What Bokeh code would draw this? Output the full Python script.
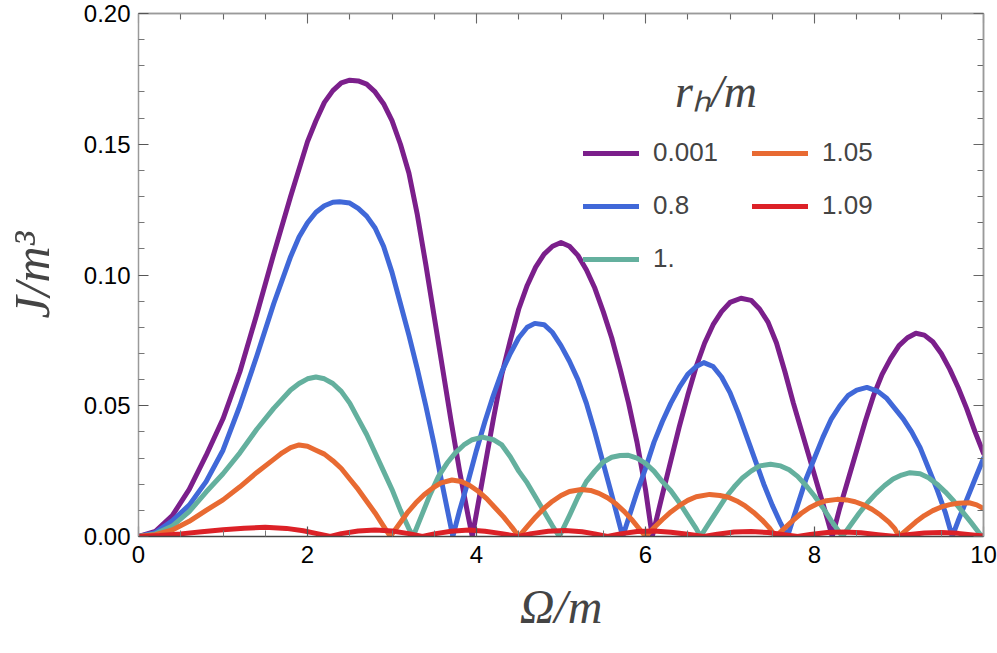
from bokeh.plotting import figure
from bokeh.models import (LinearAxis, FixedTicker, NumeralTickFormatter, Range1d,
                          Legend, LegendItem)
from bokeh.embed import file_html
from bokeh.resources import INLINE

# ---------------- data ----------------
x_0001 = [0, 0.2, 0.4, 0.6, 0.8, 1.0, 1.2, 1.4, 1.6, 1.8, 2.0, 2.1, 2.2, 2.3, 2.4, 2.5, 2.6, 2.7, 2.8,
          2.9, 3.0, 3.1, 3.2, 3.3, 3.4, 3.5, 3.6, 3.7, 3.8, 3.9, 3.95,
          4.0, 4.1, 4.2, 4.3, 4.4, 4.5, 4.6, 4.7, 4.8, 4.9, 5.0, 5.1, 5.2, 5.3, 5.4, 5.5, 5.6, 5.7,
          5.8, 5.9, 6.0, 6.08,
          6.2, 6.3, 6.4, 6.5, 6.6, 6.7, 6.8, 6.9, 7.0, 7.13, 7.25, 7.35, 7.45, 7.55, 7.65, 7.75,
          7.85, 7.95, 8.05, 8.15, 8.21,
          8.3, 8.4, 8.5, 8.6, 8.7, 8.8, 8.9, 9.0, 9.1, 9.2, 9.3, 9.4, 9.5, 9.6, 9.7, 9.8, 9.9, 10.0]
y_0001 = [0, 0.002, 0.008, 0.018, 0.031, 0.045, 0.063, 0.085, 0.108, 0.130, 0.151, 0.159, 0.166, 0.1705,
          0.1735, 0.1745, 0.1742, 0.173, 0.170,
          0.1655, 0.159, 0.150, 0.139, 0.123, 0.104, 0.084, 0.064, 0.044, 0.025, 0.008, 0,
          0.009, 0.027, 0.045, 0.062, 0.075, 0.087, 0.096, 0.103, 0.108, 0.111, 0.1124, 0.111, 0.1075,
          0.102, 0.095, 0.086, 0.076, 0.064,
          0.051, 0.036, 0.018, 0,
          0.016, 0.029, 0.042, 0.054, 0.065, 0.074, 0.081, 0.086, 0.0895, 0.0911, 0.0903, 0.087,
          0.082, 0.074, 0.063, 0.051,
          0.040, 0.029, 0.018, 0.007, 0,
          0.011, 0.022, 0.033, 0.044, 0.054, 0.062, 0.068, 0.073, 0.076, 0.0777, 0.077, 0.0745,
          0.070, 0.064, 0.057, 0.049, 0.040, 0.0318]

x_08 = [0, 0.2, 0.4, 0.6, 0.8, 1.0, 1.2, 1.4, 1.6, 1.8, 1.9, 2.0, 2.1, 2.2, 2.3, 2.38, 2.5, 2.6, 2.7,
        2.8, 2.9, 3.0, 3.1, 3.2, 3.3, 3.4, 3.5, 3.6, 3.72,
        3.8, 3.9, 4.0, 4.1, 4.2, 4.3, 4.4, 4.5, 4.6, 4.69, 4.8, 4.9, 5.0, 5.1, 5.2, 5.3, 5.4, 5.5,
        5.6, 5.73,
        5.8, 5.9, 6.0, 6.1, 6.2, 6.3, 6.4, 6.5, 6.6, 6.69, 6.8, 6.9, 7.0, 7.1, 7.2, 7.3, 7.4, 7.5,
        7.6, 7.68,
        7.8, 7.9, 8.0, 8.1, 8.2, 8.3, 8.4, 8.5, 8.62, 8.75, 8.85, 8.95, 9.05, 9.15, 9.25, 9.35,
        9.45, 9.55, 9.63,
        9.7, 9.8, 9.9, 10.0]
y_08 = [0, 0.0015, 0.006, 0.012, 0.021, 0.033, 0.050, 0.069, 0.089, 0.107, 0.1145, 0.120, 0.124, 0.1265,
        0.1278, 0.128, 0.1275, 0.1255, 0.1225,
        0.118, 0.111, 0.101, 0.089, 0.077, 0.064, 0.050, 0.035, 0.019, 0,
        0.010, 0.021, 0.033, 0.044, 0.054, 0.063, 0.070, 0.076, 0.080, 0.0815, 0.081, 0.078, 0.073,
        0.067, 0.060, 0.051, 0.040, 0.028,
        0.016, 0,
        0.007, 0.017, 0.026, 0.036, 0.044, 0.051, 0.057, 0.062, 0.065, 0.0665, 0.065, 0.061, 0.055,
        0.047, 0.038, 0.029, 0.020, 0.012,
        0.005, 0,
        0.012, 0.022, 0.030, 0.038, 0.045, 0.050, 0.054, 0.056, 0.057, 0.0555, 0.053, 0.049, 0.045,
        0.040, 0.034, 0.026,
        0.018, 0.009, 0,
        0.006, 0.014, 0.022, 0.0299]

x_1 = [0, 0.2, 0.4, 0.6, 0.8, 1.0, 1.2, 1.4, 1.6, 1.8, 1.9, 2.0, 2.1, 2.2, 2.3, 2.4, 2.5, 2.6, 2.7,
       2.8, 2.9, 3.0, 3.1, 3.2, 3.25,
       3.35, 3.45, 3.55, 3.65, 3.75, 3.85, 3.95, 4.07, 4.2, 4.3, 4.4, 4.5, 4.6, 4.7, 4.8, 4.9, 4.98,
       5.1, 5.2, 5.3, 5.4, 5.5, 5.6, 5.7, 5.79, 5.9, 6.0, 6.1, 6.2, 6.3, 6.4, 6.5, 6.6, 6.65,
       6.75, 6.85, 6.95, 7.05, 7.15, 7.25, 7.35, 7.48, 7.6, 7.7, 7.8, 7.9, 8.0, 8.1, 8.2, 8.33,
       8.43, 8.53, 8.63, 8.73, 8.83, 8.93, 9.03, 9.13, 9.25, 9.35, 9.45, 9.55, 9.65, 9.75, 9.85,
       9.98, 10.0]
y_1 = [0, 0.001, 0.004, 0.0095, 0.017, 0.024, 0.032, 0.041, 0.049, 0.056, 0.0585, 0.0603, 0.061, 0.0603,
       0.0585, 0.0555, 0.051, 0.045, 0.039,
       0.032, 0.025, 0.018, 0.010, 0.003, 0,
       0.008, 0.016, 0.023, 0.028, 0.032, 0.035, 0.037, 0.038, 0.037, 0.035, 0.0305, 0.025, 0.0205,
       0.015, 0.0095, 0.004, 0,
       0.008, 0.015, 0.021, 0.025, 0.0285, 0.0303, 0.031, 0.0311, 0.030, 0.028, 0.025, 0.021,
       0.0175, 0.013, 0.008, 0.003, 0,
       0.005, 0.010, 0.015, 0.019, 0.0225, 0.025, 0.027, 0.0276, 0.027, 0.0255, 0.023, 0.0195,
       0.0155, 0.011, 0.006, 0,
       0.0045, 0.009, 0.013, 0.0165, 0.0195, 0.022, 0.0235, 0.0244, 0.024, 0.0225, 0.020, 0.017,
       0.0135, 0.0095, 0.0055,
       0, 0.0005]

x_105 = [0, 0.2, 0.4, 0.6, 0.8, 1.0, 1.2, 1.4, 1.6, 1.7, 1.8, 1.9, 2.0, 2.1, 2.2, 2.3, 2.4, 2.5,
         2.6, 2.7, 2.8, 2.9, 2.98,
         3.08, 3.18, 3.28, 3.38, 3.48, 3.58, 3.71, 3.82, 3.92, 4.02, 4.12, 4.22, 4.32, 4.42, 4.5,
         4.6, 4.7, 4.8, 4.9, 5.0, 5.1, 5.24, 5.35, 5.45, 5.55, 5.65, 5.75, 5.85, 5.95, 6.0,
         6.1, 6.2, 6.3, 6.4, 6.5, 6.6, 6.76, 6.88, 6.98, 7.08, 7.18, 7.28, 7.38, 7.46, 7.54,
         7.64, 7.74, 7.84, 7.94, 8.04, 8.14, 8.27, 8.38, 8.48, 8.58, 8.68, 8.78, 8.88, 8.95, 9.0,
         9.1, 9.2, 9.3, 9.4, 9.5, 9.6, 9.7, 9.83, 9.92, 10.0]
y_105 = [0, 0.0007, 0.0025, 0.0058, 0.010, 0.014, 0.019, 0.0245, 0.0295, 0.032, 0.034, 0.035, 0.0345,
         0.033, 0.0315, 0.029, 0.026, 0.022,
         0.018, 0.0135, 0.009, 0.004, 0,
         0.0045, 0.009, 0.0128, 0.016, 0.0185, 0.0205, 0.0216, 0.021, 0.0195, 0.0173, 0.0145, 0.011,
         0.0075, 0.0035, 0,
         0.0038, 0.0075, 0.0108, 0.0135, 0.0157, 0.0172, 0.018, 0.0176, 0.0165, 0.0148, 0.0125,
         0.0095, 0.006, 0.002, 0,
         0.0033, 0.0065, 0.0094, 0.0118, 0.0138, 0.0152, 0.0161, 0.0157, 0.015, 0.0136, 0.0117,
         0.0092, 0.0063, 0.0035, 0,
         0.003, 0.006, 0.0088, 0.011, 0.0126, 0.0137, 0.0142, 0.014, 0.0133, 0.0121, 0.0104, 0.0082,
         0.0055, 0.003, 0,
         0.0028, 0.0056, 0.0080, 0.0099, 0.0113, 0.0122, 0.0127, 0.0129, 0.0121, 0.0107]

x_109 = [0, 0.25, 0.5, 0.75, 1.0, 1.25, 1.5, 1.75, 1.95, 2.1, 2.27, 2.4, 2.6, 2.8, 3.0, 3.2, 3.36,
         3.5, 3.7, 3.91, 4.1, 4.3, 4.49, 4.65, 4.85, 5.05, 5.25, 5.4, 5.55, 5.7, 5.9, 6.1, 6.3,
         6.5, 6.69, 6.85, 7.05, 7.25, 7.45, 7.62, 7.8, 7.95, 8.15, 8.35, 8.55, 8.75, 8.96, 9.1,
         9.3, 9.5, 9.7, 9.9, 10.0]
y_109 = [0, 0.0004, 0.001, 0.0018, 0.0026, 0.0032, 0.0035, 0.0031, 0.0022, 0.0012, 0, 0.0011, 0.0021,
         0.0025, 0.0021, 0.0011, 0,
         0.001, 0.002, 0.0025, 0.002, 0.0011, 0, 0.0011, 0.002, 0.0023, 0.0018, 0.001, 0, 0.001,
         0.0019, 0.0021, 0.0016,
         0.0009, 0, 0.0009, 0.0017, 0.0019, 0.0015, 0.0008, 0, 0.0008, 0.0015, 0.0017, 0.0014,
         0.0007, 0, 0.0007,
         0.0013, 0.0015, 0.0012, 0.0005, 0.0002]

series_labels = ["0.001", "0.8", "1.", "1.05", "1.09"]
series_x = [x_0001, x_08, x_1, x_105, x_109]
series_y = [y_0001, y_08, y_1, y_105, y_109]
colors = ["#7B1F8B", "#4068D8", "#64B09E", "#E86A32", "#DC2127"]

x_major = [0, 2, 4, 6, 8, 10]
x_minor = [0.5, 1, 1.5, 2.5, 3, 3.5, 4.5, 5, 5.5, 6.5, 7, 7.5, 8.5, 9, 9.5]
y_major = [0.0, 0.05, 0.10, 0.15, 0.20]
y_minor = [0.01, 0.02, 0.03, 0.04, 0.06, 0.07, 0.08, 0.09, 0.11, 0.12, 0.13, 0.14,
           0.16, 0.17, 0.18, 0.19]

# ---------------- figure ----------------
p = figure(width=997, height=653, output_backend="svg", toolbar_location=None,
           x_range=Range1d(0, 10), y_range=Range1d(0, 0.2),
           min_border_left=137, min_border_right=14, min_border_top=13, min_border_bottom=117,
           x_axis_location=None, y_axis_location=None)
p.grid.visible = False
p.outline_line_color = None
p.background_fill_color = "white"

SANS = "Liberation Sans"
SERIF = "Liberation Serif"


def style_ticks(ax):
    ax.axis_line_color = "#9a9a9a"
    ax.axis_line_width = 1.5
    ax.major_tick_in = 10
    ax.major_tick_out = 0
    ax.minor_tick_in = 6
    ax.minor_tick_out = 0
    ax.major_tick_line_color = "#555555"
    ax.minor_tick_line_color = "#777777"
    ax.major_tick_line_width = 1.2
    ax.minor_tick_line_width = 1.0
    ax.major_label_text_font = SANS
    ax.major_label_text_font_size = "24px"
    ax.major_label_text_color = "black"


def mirror_axes(side, majors, minors):
    # tick-only axes (no labels) for the mirrored frame side
    a_min = LinearAxis(ticker=FixedTicker(ticks=[], minor_ticks=minors))
    a_maj = LinearAxis(ticker=FixedTicker(ticks=[], minor_ticks=majors))
    for a, ln in ((a_min, 6), (a_maj, 10)):
        a.major_tick_in = 0
        a.major_tick_out = 0
        a.minor_tick_out = 0
        a.minor_tick_in = ln
        a.minor_tick_line_color = "#666666"
        a.minor_tick_line_width = 1.1
        a.major_label_standoff = 0
        a.axis_line_color = "#9a9a9a"
        a.axis_line_width = 1.5
        p.add_layout(a, side)


xt = FixedTicker(ticks=x_major, minor_ticks=x_minor)
yt = FixedTicker(ticks=y_major, minor_ticks=y_minor)

xb = LinearAxis(ticker=xt)
style_ticks(xb)
xb.axis_line_color = "#444444"
xb.major_label_standoff = 9
xb.axis_label = "Ω/m"
xb.axis_label_text_font = SERIF
xb.axis_label_text_font_style = "italic"
xb.axis_label_text_font_size = "48px"
xb.axis_label_standoff = 14
p.add_layout(xb, "below")

yl = LinearAxis(ticker=yt, formatter=NumeralTickFormatter(format="0.00"))
style_ticks(yl)
yl.major_label_standoff = 8
yl.axis_label = "J/m³"
yl.axis_label_text_font = SERIF
yl.axis_label_text_font_style = "italic"
yl.axis_label_text_font_size = "50px"
yl.axis_label_standoff = 21
p.add_layout(yl, "left")

mirror_axes("above", x_major, x_minor)
mirror_axes("right", y_major, y_minor)

items = []
for lab, xs, ys, c in zip(series_labels, series_x, series_y, colors):
    r = p.line(xs, ys, line_width=5, line_color=c, line_join="round", line_cap="round")
    items.append(LegendItem(label=lab, renderers=[r]))

leg = Legend(items=items, ncols=2, orientation="vertical",
             location=(445, 262),
             title="\u00a0" * 8 + "rₕ/m",
             title_text_font=SERIF, title_text_font_style="italic",
             title_text_font_size="46px", title_standoff=17,
             label_text_font=SANS, label_text_font_size="26px",
             glyph_width=56, glyph_height=30, label_height=30,
             label_width=77, label_standoff=14, spacing=22,
             padding=0, margin=0,
             background_fill_alpha=0, border_line_alpha=0)
p.add_layout(leg, "center")

open("out.html", "w").write(file_html(p, INLINE))
